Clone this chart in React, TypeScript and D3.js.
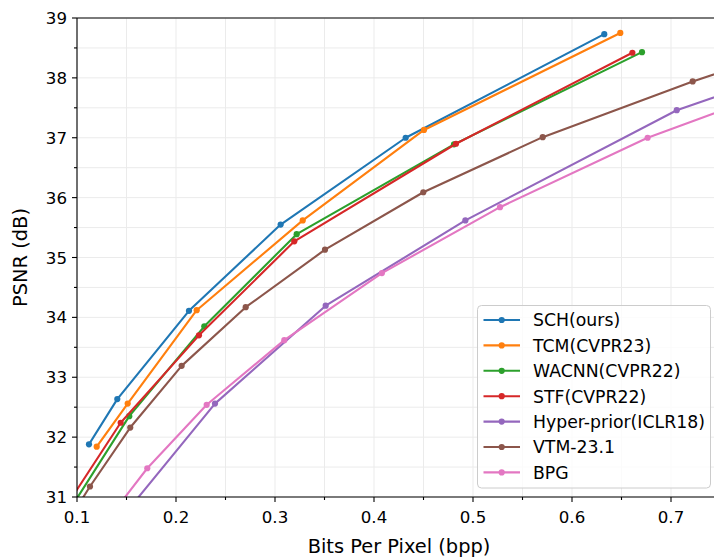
import React from "react";
import * as d3 from "d3";

const seriesNames = ["SCH(ours)", "TCM(CVPR23)", "WACNN(CVPR22)", "STF(CVPR22)", "Hyper-prior(ICLR18)", "VTM-23.1", "BPG"];
const seriesColors = ["#1f77b4", "#ff7f0e", "#2ca02c", "#d62728", "#9467bd", "#8c564b", "#e377c2"];

const schX = [0.1121, 0.1407, 0.2131, 0.3057, 0.432, 0.6326];
const schY = [31.88, 32.635, 34.11, 35.55, 37.0, 38.73];
const tcmX = [0.1199, 0.1512, 0.2209, 0.328, 0.4505, 0.6488];
const tcmY = [31.84, 32.56, 34.12, 35.62, 37.13, 38.75];
const wacnnX = [0.09, 0.1528, 0.2286, 0.3219, 0.4808, 0.6707];
const wacnnY = [30.72, 32.35, 33.85, 35.39, 36.89, 38.43];
const stfX = [0.09, 0.1441, 0.2232, 0.3195, 0.4828, 0.661];
const stfY = [30.87, 32.24, 33.7, 35.27, 36.9, 38.42];
const hyperX = [0.14, 0.2394, 0.3512, 0.4923, 0.7058, 0.8];
const hyperY = [30.55, 32.56, 34.195, 35.62, 37.46, 38.0];
const vtmX = [0.095, 0.1131, 0.1538, 0.2057, 0.2704, 0.3505, 0.4498, 0.5704, 0.7219, 0.8];
const vtmY = [30.7, 31.175, 32.16, 33.19, 34.17, 35.13, 36.09, 37.01, 37.94, 38.37];
const bpgX = [0.13, 0.171, 0.231, 0.3094, 0.408, 0.5273, 0.6764, 0.8];
const bpgY = [30.6, 31.48, 32.54, 33.62, 34.74, 35.84, 37.0, 37.75];

const xMajorTicks = [0.1, 0.2, 0.3, 0.4, 0.5, 0.6, 0.7];
const xMinorTicks = [0.15, 0.25, 0.35, 0.45, 0.55, 0.65, 0.75];
const yMajorTicks = [31, 32, 33, 34, 35, 36, 37, 38, 39];
const yMinorTicks = [31.5, 32.5, 33.5, 34.5, 35.5, 36.5, 37.5, 38.5];

const xLabel = "Bits Per Pixel (bpp)";
const yLabel = "PSNR (dB)";

const W = 714;
const H = 559;
const L = 77;
const R = 720.5;
const T = 18;
const B = 497;

export default function App() {
  const x = d3.scaleLinear().domain([0.1, 0.75]).range([L, R]);
  const y = d3.scaleLinear().domain([31, 39]).range([B, T]);
  const xs = [schX, tcmX, wacnnX, stfX, hyperX, vtmX, bpgX];
  const ys = [schY, tcmY, wacnnY, stfY, hyperY, vtmY, bpgY];
  const line = d3
    .line<[number, number]>()
    .x((d) => x(d[0]))
    .y((d) => y(d[1]));
  const font = "'DejaVu Sans', sans-serif";
  const gridColor = "#ebebeb";
  const legX = 477.5;
  const legY = 305.5;
  const legRow = 25.4;
  const tickFs = 16.67;
  const legendFs = 17.3;
  const labelFs = 19.4;

  return (
    <svg
      width={W}
      height={H}
      style={{ position: "absolute", left: 0, top: 0, background: "#fff" }}
      fontFamily={font}
    >
      <defs>
        <clipPath id="plotClip">
          <rect x={L} y={T} width={R - L} height={B - T} />
        </clipPath>
      </defs>
      <rect x={0} y={0} width={W} height={H} fill="#fff" />
      {/* grid */}
      <g stroke={gridColor} strokeWidth={1}>
        {[...xMajorTicks, ...xMinorTicks].map((t) => (
          <line key={"gx" + t} x1={x(t)} x2={x(t)} y1={T} y2={B} />
        ))}
        {[...yMajorTicks, ...yMinorTicks].map((t) => (
          <line key={"gy" + t} x1={L} x2={R} y1={y(t)} y2={y(t)} />
        ))}
      </g>
      {/* series */}
      <g clipPath="url(#plotClip)">
        {xs.map((sx, i) => {
          const pts: [number, number][] = sx.map((v, j) => [v, ys[i][j]]);
          return (
            <g key={"s" + i}>
              <path d={line(pts) || ""} fill="none" stroke={seriesColors[i]} strokeWidth={2.1} strokeLinejoin="round" strokeLinecap="square" />
              {pts.map((p, j) => (
                <circle key={j} cx={x(p[0])} cy={y(p[1])} r={3.1} fill={seriesColors[i]} />
              ))}
            </g>
          );
        })}
      </g>
      {/* spines */}
      <g stroke="#000" strokeWidth={1.1} fill="none">
        <line x1={L} x2={L} y1={T} y2={B} />
        <line x1={L} x2={R} y1={B} y2={B} />
        <line x1={L} x2={R} y1={T} y2={T} />
        <line x1={R} x2={R} y1={T} y2={B} />
      </g>
      {/* ticks */}
      <g stroke="#000" strokeWidth={1.1}>
        {xMajorTicks.map((t) => (
          <line key={"tx" + t} x1={x(t)} x2={x(t)} y1={B} y2={B + 5} />
        ))}
        {xMinorTicks.map((t) => (
          <line key={"tmx" + t} x1={x(t)} x2={x(t)} y1={B} y2={B + 3} />
        ))}
        {yMajorTicks.map((t) => (
          <line key={"ty" + t} x1={L - 5} x2={L} y1={y(t)} y2={y(t)} />
        ))}
        {yMinorTicks.map((t) => (
          <line key={"tmy" + t} x1={L - 3} x2={L} y1={y(t)} y2={y(t)} />
        ))}
      </g>
      <g fontSize={tickFs} fill="#000">
        {xMajorTicks.map((t) => (
          <text key={"lx" + t} x={x(t)} y={522.5} textAnchor="middle">
            {d3.format(".1f")(t)}
          </text>
        ))}
        {yMajorTicks.map((t) => (
          <text key={"ly" + t} x={L - 10} y={y(t) + 6} textAnchor="end">
            {t}
          </text>
        ))}
      </g>
      <text x={399} y={553} fontSize={labelFs} textAnchor="middle" fill="#000">
        {xLabel}
      </text>
      <text
        transform={`translate(27, ${(T + B) / 2}) rotate(-90)`}
        fontSize={labelFs}
        textAnchor="middle"
        fill="#000"
      >
        {yLabel}
      </text>
      {/* legend */}
      <rect
        x={legX}
        y={legY}
        width={233}
        height={182.5}
        rx={4}
        fill="#fff"
        fillOpacity={0.8}
        stroke="#cccccc"
        strokeWidth={1}
      />
      {seriesNames.map((name, i) => {
        const cy = legY + 14.5 + i * legRow;
        return (
          <g key={"leg" + i}>
            <line x1={483.5} x2={520} y1={cy} y2={cy} stroke={seriesColors[i]} strokeWidth={2.1} />
            <circle cx={501.7} cy={cy} r={3.1} fill={seriesColors[i]} />
            <text x={533} y={cy + 6.3} fontSize={legendFs} fill="#000">
              {name}
            </text>
          </g>
        );
      })}
    </svg>
  );
}
